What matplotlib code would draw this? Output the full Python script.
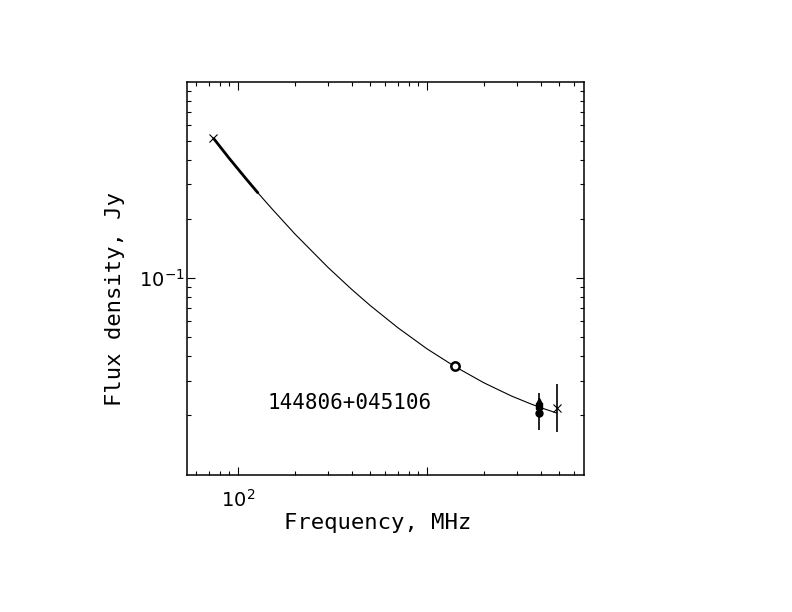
import matplotlib
matplotlib.use("Agg")
import matplotlib.pyplot as plt
from matplotlib.ticker import FixedLocator, NullFormatter

# fitted spectrum (MHz, Jy)
curve_freq = [74, 90, 110, 128, 150, 200, 300, 400, 500, 700,
              1000, 1400, 2000, 2800, 3500, 4000, 4850]
curve_flux = [0.516, 0.406, 0.321, 0.270, 0.227, 0.1675, 0.1129, 0.0873, 0.0724, 0.0558,
              0.0435, 0.0354, 0.0292, 0.0250, 0.0229, 0.0218, 0.0205]
# thick part of the fit at the low-frequency end
thick_freq = [74, 90, 110, 128]
thick_flux = [0.516, 0.406, 0.321, 0.270]

# measurements
cross_freq = [74, 4850]
cross_flux = [0.516, 0.0218]
ring_freq = [1400]
ring_flux = [0.0354]
tri_freq = [3900]
tri_flux = [0.0236]
sq_freq = [3900]
sq_flux = [0.0223]
dot_freq = [3900]
dot_flux = [0.0204]
bar_freq = [3900, 4850]
bar_lo = [0.0168, 0.0164]
bar_hi = [0.0259, 0.0288]

source_name = "144806+045106"

FONT = "DejaVu Sans Mono"

fig = plt.figure(figsize=(7.92, 6.12), dpi=100)
ax = fig.add_axes([0.2357, 0.2239, 0.5021, 0.6426])
ax.set_xscale("log")
ax.set_yscale("log")
ax.set_xlim(53.5, 6800)
ax.set_ylim(0.0099, 1.0)

ax.plot(curve_freq, curve_flux, color="black", lw=0.8)
ax.plot(thick_freq, thick_flux, color="black", lw=2.0, solid_capstyle="butt")
ax.vlines(bar_freq, bar_lo, bar_hi, color="black", lw=1.2)

ax.plot(cross_freq, cross_flux, "x", color="black", ms=6, mew=0.8)
ax.plot(ring_freq, ring_flux, "o", mfc="white", mec="black", ms=6, mew=1.8)
ax.plot(tri_freq, tri_flux, "^", color="black", ms=4.5)
ax.plot(sq_freq, sq_flux, "s", color="black", ms=4)
ax.plot(dot_freq, dot_flux, "o", color="black", ms=5)

ax.text(0.202, 0.168, source_name, transform=ax.transAxes, family=FONT,
        fontsize=15, va="baseline", ha="left")

# ticks
ax.xaxis.set_major_locator(FixedLocator([100, 1000]))
ax.set_xticklabels([r"$10^{2}$", ""])
ax.xaxis.set_minor_locator(FixedLocator([60, 70, 80, 90, 200, 300, 400, 500, 600,
                                         700, 800, 900, 2000, 3000, 4000, 5000, 6000]))
ax.xaxis.set_minor_formatter(NullFormatter())
ax.yaxis.set_major_locator(FixedLocator([0.1]))
ax.set_yticklabels([r"$10^{-1}$"])
ax.yaxis.set_minor_locator(FixedLocator([0.02, 0.03, 0.04, 0.05, 0.06, 0.07, 0.08, 0.09,
                                         0.2, 0.3, 0.4, 0.5, 0.6, 0.7, 0.8, 0.9]))
ax.yaxis.set_minor_formatter(NullFormatter())

ax.tick_params(which="both", direction="in", top=True, right=True, color="black")
ax.tick_params(which="major", length=5.8, width=0.8, labelsize=14)
ax.tick_params(which="minor", length=2.9, width=0.8)
ax.tick_params(axis="x", which="major", pad=10)
ax.tick_params(axis="y", which="major", pad=1)
for s in ax.spines.values():
    s.set_linewidth(1.1)

ax.set_xlabel("Frequency, MHz", family=FONT, fontsize=16)
ax.xaxis.set_label_coords(0.48, -0.122)
ax.xaxis.label.set_va("center")
ax.set_ylabel("Flux density, Jy", family=FONT, fontsize=16)
ax.yaxis.set_label_coords(-0.18, 0.4475)
ax.yaxis.label.set_va("center")

fig.savefig("out.png", dpi=100)
